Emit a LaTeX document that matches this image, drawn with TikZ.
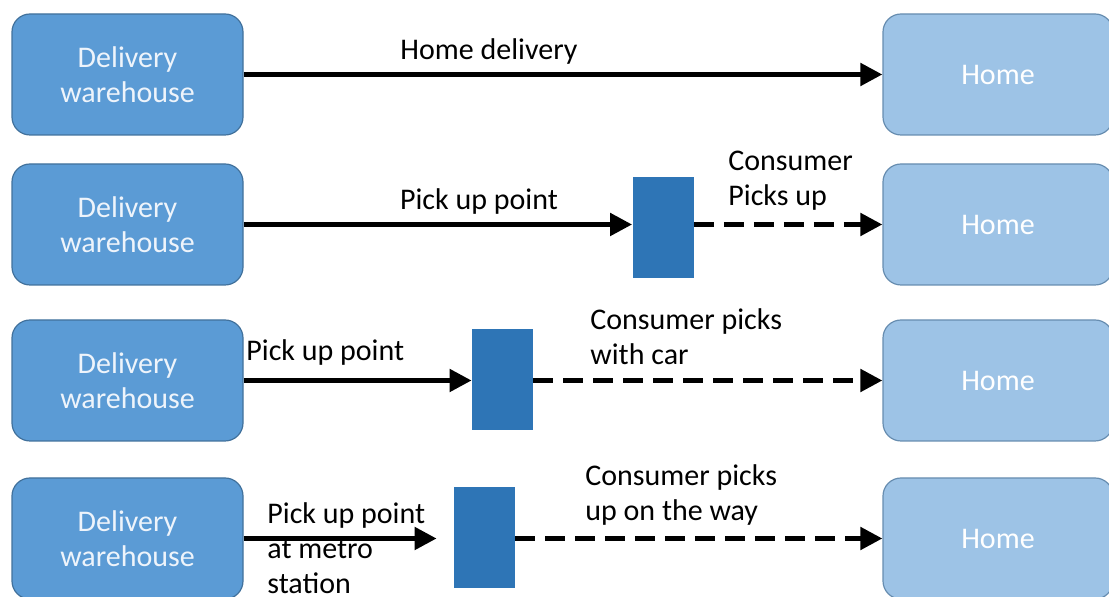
\documentclass[tikz,border=0pt]{standalone}
\usepackage{fontspec}
\setmainfont{Carlito}
\usetikzlibrary{arrows.meta}

\definecolor{whblue}{HTML}{5B9BD5}
\definecolor{homeblue}{HTML}{9DC3E6}
\definecolor{ppblue}{HTML}{2E75B6}
\definecolor{edgeblue}{HTML}{41719C}
\definecolor{boxtext}{HTML}{EEF4FB}

\tikzset{
  warehouse/.style={draw=edgeblue, fill=whblue, rounded corners=9pt, line width=0.6pt,
    minimum width=115.5pt, minimum height=60.5pt, inner sep=0pt, align=center, text=boxtext},
  homebox/.style={draw=edgeblue!80, fill=homeblue, rounded corners=9pt, line width=0.6pt,
    minimum width=115pt, minimum height=60.5pt, inner sep=0pt, text=white},
  pickbox/.style={fill=ppblue, minimum width=30.5pt, minimum height=50.5pt, inner sep=0pt},
  route/.style={line width=2.5pt, -{Triangle[length=11pt,width=11pt]}},
  walk/.style={route, dash pattern=on 10pt off 5pt},
  lbl/.style={inner sep=0pt, align=left}
}

\begin{document}
\begin{tikzpicture}[x=0.5pt, y=-0.5pt, font=\fontsize{15}{17.5}\selectfont]
\useasboundingbox (0,0) rectangle (1109,597);

% row 1
\node[warehouse] (wh1) at (127.5,74.5) {Delivery\\warehouse};
\node[homebox] (home1) at (998,74.5) {Home};
\draw[route] (wh1.east) -- (home1.west);
\node[lbl] (lbl1) at (489,52) {Home delivery};

% row 2
\node[warehouse] (wh2) at (127.5,224.5) {Delivery\\warehouse};
\node[homebox] (home2) at (998,224.5) {Home};
\node[pickbox] (pp2) at (663,227.5) {};
\draw[route] (wh2.east) -- (wh2.east -| pp2.west);
\draw[walk] (wh2.east -| pp2.east) -- (home2.west);
\node[lbl] (lbl2) at (479,202) {Pick up point};
\node[lbl, anchor=west] (lbl2b) at (728,181) {Consumer\\Picks up};

% row 3
\node[warehouse] (wh3) at (127.5,380.5) {Delivery\\warehouse};
\node[homebox] (home3) at (998,380.5) {Home};
\node[pickbox] (pp3) at (502.5,380) {};
\draw[route] (wh3.east) -- (wh3.east -| pp3.west);
\draw[walk] (wh3.east -| pp3.east) -- (home3.west);
\node[lbl, anchor=west] (lbl3) at (246,353) {Pick up point};
\node[lbl, anchor=west] (lbl3b) at (590,337) {Consumer picks\\with car};

% row 4
\node[warehouse] (wh4) at (127.5,538.5) {Delivery\\warehouse};
\node[homebox] (home4) at (998,538.5) {Home};
\node[pickbox] (pp4) at (484.5,537.5) {};
\draw[route, shorten >=8.5pt] (wh4.east) -- (wh4.east -| pp4.west);
\draw[walk] (wh4.east -| pp4.east) -- (home4.west);
\node[lbl, anchor=west] (lbl4) at (267,548) {Pick up point\\at metro\\station};
\node[lbl, anchor=west] (lbl4b) at (585,495) {Consumer picks\\up on the way};
\end{tikzpicture}
\end{document}
